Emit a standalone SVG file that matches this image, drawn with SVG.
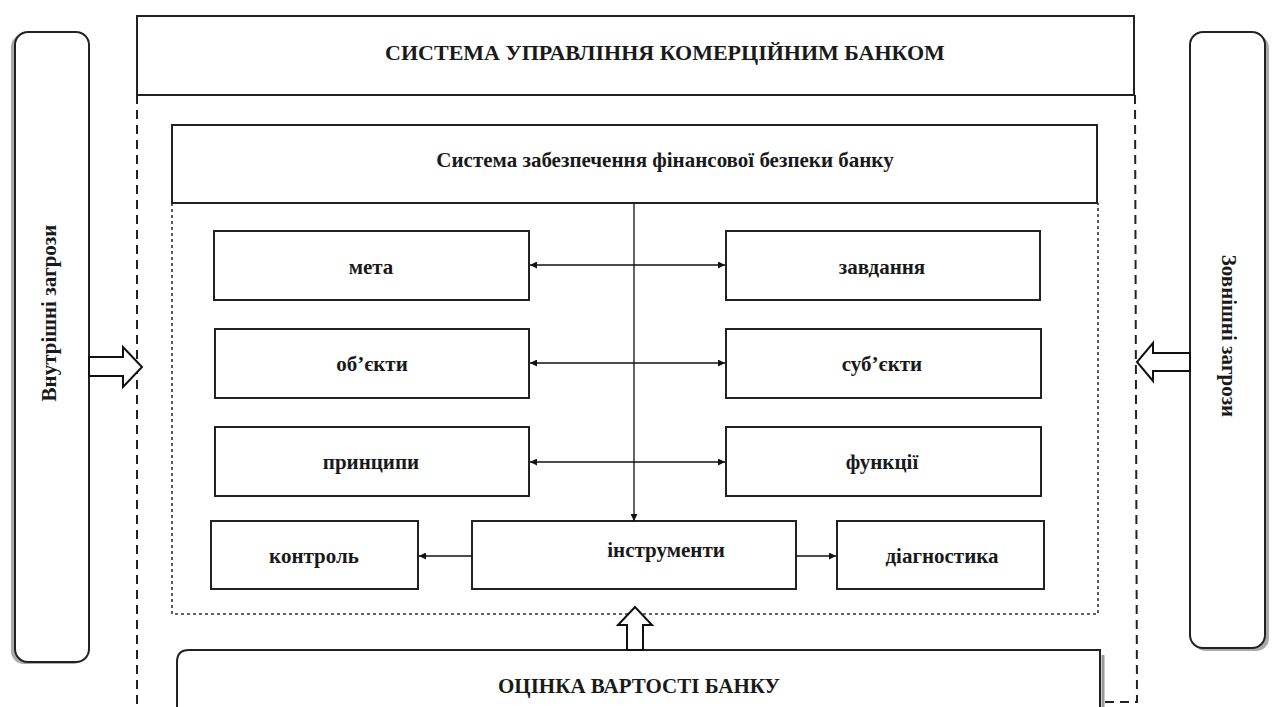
<svg xmlns="http://www.w3.org/2000/svg" width="1276" height="707" viewBox="0 0 1276 707">
  <defs>
    <marker id="ah" viewBox="0 0 10 10" refX="10" refY="5" markerWidth="9" markerHeight="7" markerUnits="userSpaceOnUse" orient="auto-start-reverse">
      <path d="M0,0 L10,5 L0,10 z" fill="#111"/>
    </marker>
  </defs>
  <style>
    .box { fill: #fff; stroke: #222; stroke-width: 2; }
    .lbl { font-family: "Liberation Serif", "Times New Roman", serif; font-weight: bold; font-size: 21px; fill: #1a1a1a; text-anchor: middle; }
    .ttl { font-size: 22px; }
    .conn { stroke: #111; stroke-width: 1.3; fill: none; }
    .dash { stroke: #222; stroke-width: 2; fill: none; stroke-dasharray: 9 6; }
    .dot { stroke: #333; stroke-width: 1.6; fill: none; stroke-dasharray: 3 3; }
    .hollow { fill: #fff; stroke: #111; stroke-width: 2; stroke-linejoin: miter; }
  </style>
  <rect width="1276" height="707" fill="#fff"/>

  <g id="frame">
    <path class="dash" d="M137,95 L137,707"/>
    <path class="dash" d="M1135,95 L1137,702 L1100,702"/>
    <path class="dot" d="M172,203 L172,614 L1098,614 L1098,203"/>
  </g>

  <g id="bank-system">
    <rect class="box" x="137" y="16" width="997" height="79"/>
    <text class="lbl ttl" x="665" y="60">СИСТЕМА УПРАВЛІННЯ КОМЕРЦІЙНИМ БАНКОМ</text>
  </g>

  <g id="security-system">
    <rect class="box" x="172" y="125" width="925" height="78"/>
    <text class="lbl" x="665" y="167">Система забезпечення фінансової безпеки банку</text>
  </g>

  <g id="internal-threats">
    <rect x="11" y="34" width="75" height="630" rx="13" fill="#aaa"/>
    <rect class="box" x="15" y="32" width="74" height="630" rx="13"/>
    <text class="lbl" transform="translate(56,313) rotate(-90)" x="0" y="0">Внутрішні загрози</text>
  </g>

  <g id="external-threats">
    <rect x="1193" y="35" width="76" height="616" rx="13" fill="#aaa"/>
    <rect class="box" x="1190" y="32" width="75" height="616" rx="13"/>
    <text class="lbl" transform="translate(1222,336) rotate(90)" x="0" y="0">Зовнішні загрози</text>
  </g>

  <g id="meta">
    <rect class="box" x="214" y="231" width="315" height="69"/>
    <text class="lbl" x="371" y="274">мета</text>
  </g>
  <g id="zavdannia">
    <rect class="box" x="726" y="231" width="314" height="69"/>
    <text class="lbl" x="882" y="274">завдання</text>
  </g>
  <g id="obiekty">
    <rect class="box" x="215" y="329" width="314" height="69"/>
    <text class="lbl" x="372" y="371">об’єкти</text>
  </g>
  <g id="subiekty">
    <rect class="box" x="726" y="329" width="315" height="69"/>
    <text class="lbl" x="882" y="371">суб’єкти</text>
  </g>
  <g id="pryntsypy">
    <rect class="box" x="215" y="427" width="314" height="69"/>
    <text class="lbl" x="371" y="469">принципи</text>
  </g>
  <g id="funktsii">
    <rect class="box" x="726" y="427" width="315" height="69"/>
    <text class="lbl" x="882" y="469">функції</text>
  </g>
  <g id="kontrol">
    <rect class="box" x="211" y="521" width="207" height="68"/>
    <text class="lbl" x="314" y="563">контроль</text>
  </g>
  <g id="instrumenty">
    <rect class="box" x="472" y="521" width="324" height="68"/>
    <text class="lbl" x="666" y="557">інструменти</text>
  </g>
  <g id="diagnostyka">
    <rect class="box" x="837" y="521" width="207" height="68"/>
    <text class="lbl" x="942" y="563">діагностика</text>
  </g>

  <g id="valuation">
    <path d="M1103,655 L1103,707" stroke="#999" stroke-width="3" fill="none"/>
    <path class="box" d="M177,710 L177,662 Q177,650 189,650 L1100,650 L1100,710"/>
    <text class="lbl" x="639" y="693">ОЦІНКА ВАРТОСТІ БАНКУ</text>
  </g>

  <g id="connectors">
    <path class="conn" d="M634,203 L634,521" marker-end="url(#ah)"/>
    <path class="conn" d="M530,265 L725,265" marker-start="url(#ah)" marker-end="url(#ah)"/>
    <path class="conn" d="M530,363 L725,363" marker-start="url(#ah)" marker-end="url(#ah)"/>
    <path class="conn" d="M530,462 L725,462" marker-start="url(#ah)" marker-end="url(#ah)"/>
    <path class="conn" d="M472,556 L419,556" marker-end="url(#ah)"/>
    <path class="conn" d="M796,556 L836,556" marker-end="url(#ah)"/>
    <polygon class="hollow" points="89,357 123,357 123,347 142,367 123,387 123,376 89,376"/>
    <polygon class="hollow" points="1190,353 1153,353 1153,343 1137,362 1153,381 1153,371 1190,371"/>
    <polygon class="hollow" points="627,650 627,625 618,625 635,607 652,625 643,625 643,650"/>
  </g>
</svg>
